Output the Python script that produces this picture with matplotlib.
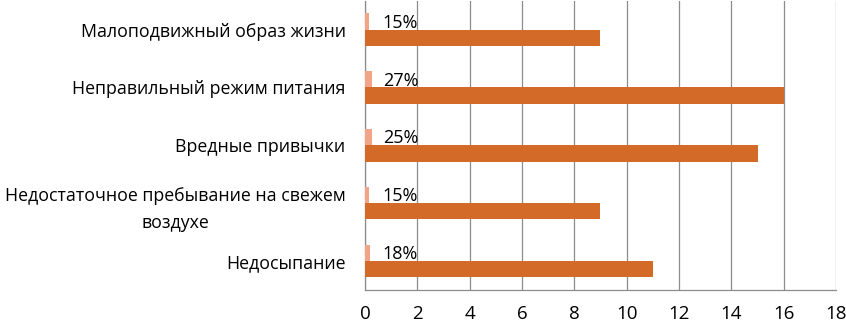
import numpy as np
import matplotlib.pyplot as plt

plt.rcParams['font.family'] = ['Open Sans', 'DejaVu Sans']

# Данные (сверху вниз)
categories = ['Малоподвижный образ жизни',
              'Неправильный режим питания',
              'Вредные привычки',
              'Недостаточное пребывание на свежем\nвоздухе',
              'Недосыпание']
counts = [9, 16, 15, 9, 11]
shares = [0.15, 0.27, 0.25, 0.15, 0.18]
share_labels = ['15%', '27%', '25%', '15%', '18%']
x_ticks = [0, 2, 4, 6, 8, 10, 12, 14, 16, 18]

fig = plt.figure(figsize=(8.46, 3.24), dpi=100)
ax = fig.add_axes([0.4314, 0.105, 0.5568, 0.893])

y = np.arange(len(categories))
h = 0.28
ax.barh(y - h / 2, shares, height=h, color='#F2A488', zorder=3)
ax.barh(y + h / 2, counts, height=h, color='#D46A27', zorder=3)

for yi, lab in zip(y, share_labels):
    ax.text(0.68, yi - 0.12, lab, ha='left', va='center', fontsize=13, zorder=4)

ax.set_xlim(0, 18)
ax.set_ylim(len(categories) - 0.5, -0.5)
ax.set_xticks(x_ticks)
ax.set_yticks(y)
ax.set_yticklabels(categories, fontsize=12.8, multialignment='center', linespacing=1.6)
ax.tick_params(axis='y', length=0, pad=14)
ax.tick_params(axis='x', length=0, pad=11, labelsize=13.5)
ax.grid(axis='x', color='#8C8C8C', linewidth=0.9, zorder=0)

for side in ['top', 'right']:
    ax.spines[side].set_visible(False)
for side in ['left', 'bottom']:
    ax.spines[side].set_color('#8C8C8C')
    ax.spines[side].set_linewidth(0.9)

plt.savefig('out.png', dpi=100)
